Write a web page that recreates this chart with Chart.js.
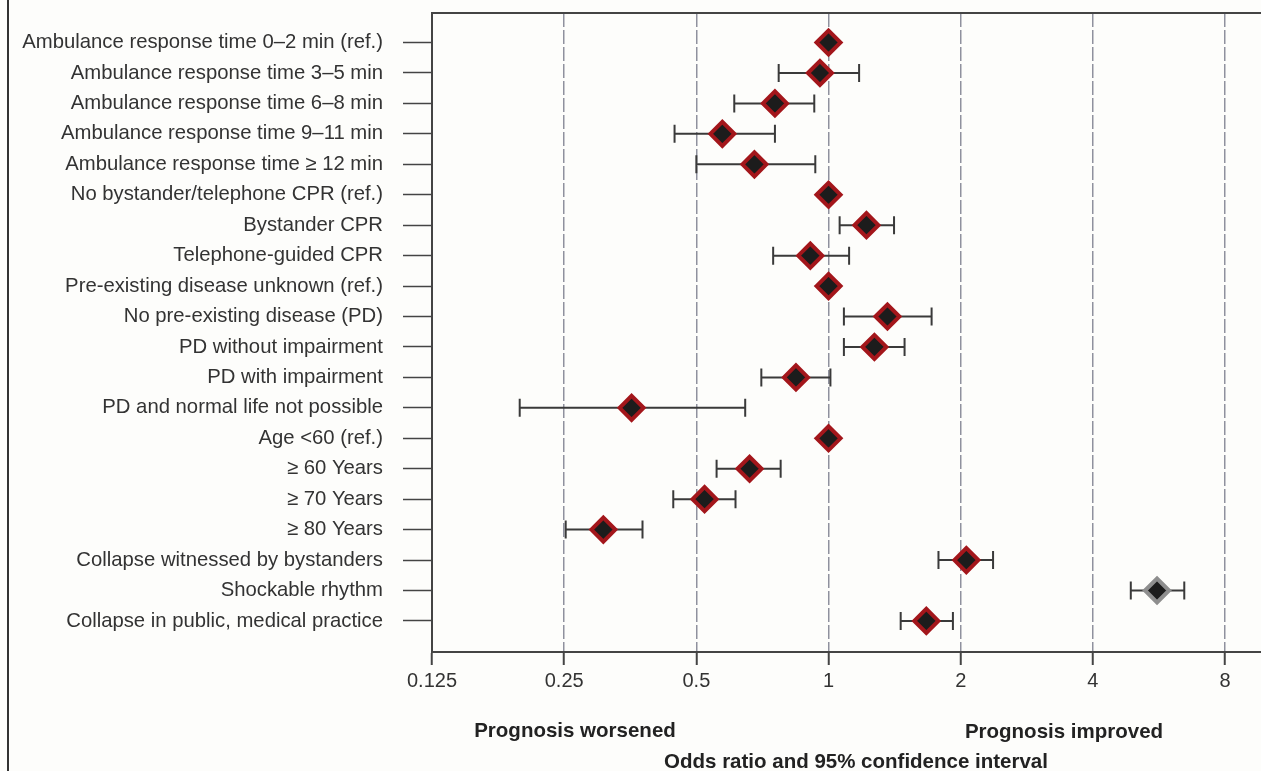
<!DOCTYPE html>
<html>
<head>
<meta charset="utf-8">
<script src="https://cdn.jsdelivr.net/npm/chart.js@4/dist/chart.umd.min.js"></script>
<style>
  html, body { margin: 0; padding: 0; background: #fdfdfb; }
  #wrap { position: relative; width: 1261px; height: 771px; overflow: hidden; }
  #frame { position: absolute; left: 7px; top: 0; width: 2px; height: 771px; background: #333; }
  .lbl { position: absolute; transform: translate(-50%, -50%); font-family: "Liberation Sans", Arial, sans-serif;
         font-weight: bold; font-size: 20.5px; color: #222; white-space: nowrap; }
</style>
</head>
<body>
<div id="wrap">
  <canvas id="c" width="1261" height="771"></canvas>
  <div id="frame"></div>
  <div class="lbl" style="left:575px; top:730px;">Prognosis worsened</div>
  <div class="lbl" style="left:1064px; top:731px;">Prognosis improved</div>
  <div class="lbl" style="left:856px; top:761px;">Odds ratio and 95% confidence interval</div>
</div>
<script>
const categories = [
  "Ambulance response time 0\u20132 min (ref.)",
  "Ambulance response time 3\u20135 min",
  "Ambulance response time 6\u20138 min",
  "Ambulance response time 9\u201311 min",
  "Ambulance response time \u2265 12 min",
  "No bystander/telephone CPR (ref.)",
  "Bystander CPR",
  "Telephone-guided CPR",
  "Pre-existing disease unknown (ref.)",
  "No pre-existing disease (PD)",
  "PD without impairment",
  "PD with impairment",
  "PD and normal life not possible",
  "Age <60 (ref.)",
  "\u2265 60 Years",
  "\u2265 70 Years",
  "\u2265 80 Years",
  "Collapse witnessed by bystanders",
  "Shockable rhythm",
  "Collapse in public, medical practice"
];
const oddsRatio = [1, 0.956, 0.755, 0.573, 0.678, 1, 1.22, 0.909, 1, 1.362, 1.272, 0.843, 0.356, 1, 0.661, 0.522, 0.307, 2.06, 5.60, 1.67];
const ciLower   = [null, 0.770, 0.610, 0.446, 0.500, null, 1.06, 0.748, null, 1.084, 1.084, 0.703, 0.198, null, 0.556, 0.443, 0.252, 1.78, 4.88, 1.46];
const ciUpper   = [null, 1.174, 0.928, 0.755, 0.933, null, 1.41, 1.114, null, 1.717, 1.49, 1.01, 0.646, null, 0.778, 0.614, 0.377, 2.37, 6.46, 1.92];
const xTicks = [0.125, 0.25, 0.5, 1, 2, 4, 8];
const highlighted = ["Shockable rhythm"];

const FONT = '"Liberation Sans", Arial, sans-serif';

function noPadding(scale) {
  scale.paddingTop = 0; scale.paddingBottom = 0;
  scale.paddingLeft = 0; scale.paddingRight = 0;
}

const errorBars = {
  id: 'errorBars',
  beforeDatasetsDraw(chart) {
    const xs = chart.scales.x, ys = chart.scales.y, ctx = chart.ctx;
    ctx.save();
    ctx.strokeStyle = '#3a3a3a';
    ctx.lineWidth = 2;
    for (let i = 0; i < categories.length; i++) {
      if (ciLower[i] == null || ciUpper[i] == null) continue;
      const y = ys.getPixelForValue(i);
      const x1 = xs.getPixelForValue(ciLower[i]);
      const x2 = xs.getPixelForValue(ciUpper[i]);
      ctx.beginPath();
      ctx.moveTo(x1, y); ctx.lineTo(x2, y);
      ctx.moveTo(x1, y - 9); ctx.lineTo(x1, y + 9);
      ctx.moveTo(x2, y - 9); ctx.lineTo(x2, y + 9);
      ctx.stroke();
    }
    ctx.restore();
  }
};

const topFrame = {
  id: 'topFrame',
  afterDraw(chart) {
    const a = chart.chartArea, ctx = chart.ctx;
    ctx.save();
    ctx.strokeStyle = '#444';
    ctx.lineWidth = 2;
    ctx.beginPath();
    ctx.moveTo(a.left - 1, a.top);
    ctx.lineTo(a.right, a.top);
    ctx.stroke();
    ctx.restore();
  }
};

new Chart(document.getElementById('c'), {
  type: 'scatter',
  data: {
    datasets: [{
      data: oddsRatio.map((v, i) => ({ x: v, y: i })),
      pointStyle: 'rectRot',
      pointRadius: 12,
      pointHoverRadius: 12,
      pointBackgroundColor: '#1c1c1c',
      pointBorderColor: categories.map(c => highlighted.includes(c) ? '#8e8e8e' : '#a3161b'),
      pointBorderWidth: 4,
      pointHoverBorderWidth: 4,
      clip: false
    }]
  },
  plugins: [errorBars, topFrame],
  options: {
    responsive: false,
    animation: false,
    devicePixelRatio: 1,
    layout: { autoPadding: false, padding: { top: 13, right: 0, bottom: 0, left: 0 } },
    plugins: { legend: { display: false }, tooltip: { enabled: false } },
    scales: {
      x: {
        type: 'logarithmic',
        min: 0.125,
        max: 9.66,
        afterBuildTicks(scale) { scale.ticks = xTicks.map(v => ({ value: v })); },
        afterFit(scale) { scale.height = 119; noPadding(scale); },
        ticks: {
          callback: (v) => String(v),
          font: { family: FONT, size: 20 },
          color: '#333',
          padding: 4,
          autoSkip: false,
          maxRotation: 0
        },
        grid: {
          color: '#8f919e',
          lineWidth: 1.5,
          tickLength: 13,
          tickColor: '#444',
          tickWidth: 2,
          tickBorderDash: []
        },
        border: { display: true, color: '#444', width: 2, dash: [14, 3] }
      },
      y: {
        type: 'linear',
        reverse: true,
        min: -0.97,
        max: 20.02,
        afterBuildTicks(scale) { scale.ticks = categories.map((_, i) => ({ value: i })); },
        afterFit(scale) { scale.width = 432; noPadding(scale); },
        ticks: {
          callback: (v, i) => categories[i],
          font: { family: FONT, size: 20.3 },
          color: '#333',
          padding: 20,
          autoSkip: false
        },
        grid: {
          drawOnChartArea: false,
          tickLength: 29,
          tickColor: '#444',
          tickWidth: 1.5
        },
        border: { display: true, color: '#444', width: 2 }
      }
    }
  }
});
</script>
</body>
</html>
